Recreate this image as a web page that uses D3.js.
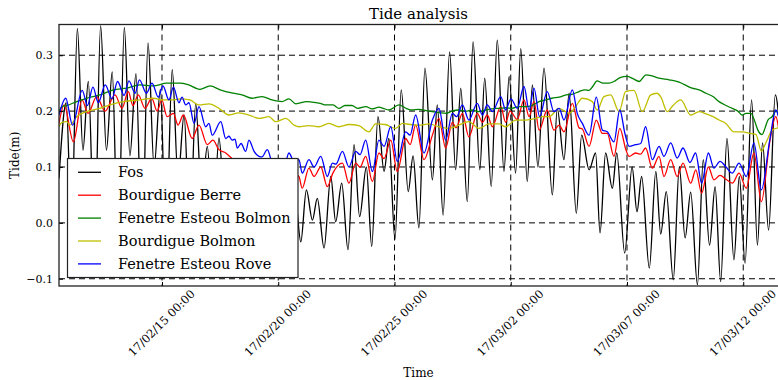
<!DOCTYPE html>
<html>
<head>
<meta charset="utf-8">
<script src="https://cdn.jsdelivr.net/npm/d3@7"></script>
<style>
  body { margin: 0; background: #fff; }
  svg { display: block; font-family: "DejaVu Serif", serif; }
</style>
</head>
<body>
<svg id="chart" width="778" height="380"></svg>
<script>
// time is stored as days since 2017-02-10 00:00 (UTC)
const baseDate = Date.UTC(2017, 1, 10);
const xLimits = [0.57, 31.495];
const yLimits = [-0.113, 0.355];
const xTickDates = ['2017-02-15', '2017-02-20', '2017-02-25', '2017-03-02', '2017-03-07', '2017-03-12'];
const yTicks = [-0.1, 0.0, 0.1, 0.2, 0.3];
const seriesNames = ['Fos', 'Bourdigue Berre', 'Fenetre Esteou Bolmon', 'Bourdigue Bolmon', 'Fenetre Esteou Rove'];

const fos = [
  [0.57,0.08],[0.88,0.215],[1.11,0.0],[1.36,0.348],[1.60,0.13],[1.83,0.253],[2.10,-0.04],[2.36,0.353],
  [2.61,0.13],[2.86,0.27],[3.11,-0.05],[3.38,0.35],[3.62,0.12],[3.88,0.267],[4.14,-0.05],[4.40,0.322],
  [4.66,0.10],[4.93,0.239],[5.17,-0.03],[5.44,0.274],[5.69,0.08],[5.95,0.193],[6.20,-0.02],[6.45,0.214],
  [6.70,0.05],[6.95,0.137],[7.19,-0.01],[7.45,0.152],[7.71,0.03],[7.95,0.09],[8.18,0.0],[8.44,0.11],
  [8.68,0.02],[8.91,0.07],[9.15,-0.01],[9.39,0.09],[9.62,0.0],[9.86,0.05],[10.08,-0.02],[10.31,0.08],
  [10.53,-0.02],[10.74,0.04],[10.97,-0.034],[11.21,0.059],[11.47,0.005],[11.68,0.044],[11.97,-0.045],
  [12.26,0.083],[12.47,0.002],[12.73,0.071],[13.00,-0.048],[13.26,0.14],[13.50,0.011],[13.79,0.10],
  [14.02,-0.042],[14.29,0.19],[14.55,0.092],[14.76,0.151],[15.02,-0.03],[15.29,0.238],[15.59,0.056],
  [15.80,0.12],[16.05,-0.009],[16.31,0.277],[16.63,0.077],[16.84,0.211],[17.09,0.014],[17.37,0.306],
  [17.63,0.095],[17.85,0.241],[18.13,0.038],[18.38,0.324],[18.67,0.095],[18.88,0.259],[19.16,0.065],
  [19.42,0.327],[19.71,0.092],[19.93,0.262],[20.21,0.089],[20.43,0.312],[20.71,0.074],[20.93,0.247],
  [21.17,0.10],[21.43,0.277],[21.79,0.05],[22.00,0.205],[22.29,0.113],[22.51,0.232],[22.82,0.017],
  [23.05,0.157],[23.37,0.095],[23.65,0.125],[23.84,-0.018],[24.08,0.125],[24.37,0.062],[24.56,0.125],
  [24.90,-0.054],[25.22,0.10],[25.43,0.02],[25.63,0.083],[25.96,-0.081],[26.24,0.092],[26.45,-0.02],
  [26.69,0.056],[26.99,-0.102],[27.25,0.10],[27.50,-0.027],[27.74,0.055],[28.03,-0.111],[28.28,0.113],
  [28.55,-0.04],[28.79,0.065],[29.03,-0.105],[29.30,0.151],[29.60,-0.066],[29.83,0.083],[30.08,-0.072],
  [30.36,0.22],[30.61,-0.04],[30.83,0.143],[31.09,-0.013],[31.38,0.229],[31.60,0.15]
];

const bourdigueBerre = [
  [0.57,0.178],[0.79,0.211],[1.19,0.145],[1.56,0.22],[1.82,0.196],[2.19,0.226],[2.55,0.20],[2.98,0.229],
  [3.28,0.205],[3.55,0.235],[3.75,0.21],[3.98,0.229],[4.27,0.205],[4.56,0.223],[4.79,0.20],[4.99,0.22],
  [5.22,0.19],[5.49,0.196],[5.69,0.175],[5.92,0.193],[6.30,0.151],[6.59,0.175],[6.95,0.14],[7.19,0.148],
  [7.45,0.131],[7.74,0.125],[8.01,0.115],[8.36,0.10],[8.79,0.105],[9.13,0.09],[9.56,0.10],[9.99,0.085],
  [10.42,0.095],[10.59,0.09],[10.89,0.083],[11.03,0.062],[11.32,0.098],[11.54,0.083],[11.83,0.10],
  [12.11,0.065],[12.36,0.09],[12.76,0.107],[13.04,0.071],[13.33,0.107],[13.52,0.10],[13.76,0.119],
  [14.05,0.074],[14.33,0.125],[14.55,0.115],[14.84,0.148],[15.12,0.092],[15.48,0.151],[15.67,0.14],
  [15.91,0.175],[16.27,0.113],[16.63,0.157],[16.91,0.187],[17.20,0.134],[17.49,0.18],[17.65,0.17],
  [17.92,0.196],[18.20,0.154],[18.56,0.196],[18.78,0.18],[18.99,0.193],[19.21,0.172],[19.57,0.208],
  [19.78,0.18],[19.97,0.20],[20.28,0.185],[20.57,0.22],[20.79,0.19],[21.00,0.217],[21.22,0.166],
  [21.57,0.202],[21.86,0.166],[22.08,0.175],[22.29,0.163],[22.65,0.214],[22.94,0.17],[23.08,0.168],
  [23.37,0.137],[23.68,0.184],[23.94,0.16],[24.15,0.16],[24.44,0.119],[24.69,0.169],[24.96,0.13],
  [25.09,0.119],[25.37,0.125],[25.59,0.123],[25.80,0.134],[26.09,0.098],[26.38,0.119],[26.59,0.083],
  [26.88,0.113],[27.16,0.083],[27.41,0.107],[27.74,0.071],[27.96,0.095],[28.21,0.053],[28.50,0.10],
  [28.74,0.077],[29.00,0.085],[29.26,0.078],[29.53,0.071],[29.82,0.089],[30.13,0.062],[30.46,0.125],
  [30.78,0.038],[31.14,0.145],[31.40,0.19],[31.52,0.17]
];

const esteouBolmon = [
  [0.57,0.20],[0.70,0.208],[0.90,0.21],[1.33,0.217],[1.76,0.223],[2.33,0.229],[2.91,0.238],[3.48,0.241],
  [4.05,0.247],[4.63,0.245],[5.20,0.25],[5.77,0.25],[6.08,0.248],[6.63,0.239],[7.07,0.245],[7.50,0.238],
  [8.05,0.232],[8.44,0.229],[8.87,0.223],[9.30,0.226],[9.73,0.22],[10.16,0.217],[10.46,0.222],
  [10.76,0.213],[11.22,0.217],[11.45,0.216],[11.80,0.214],[12.05,0.211],[12.36,0.211],[12.61,0.205],
  [12.87,0.21],[13.17,0.21],[13.43,0.205],[13.77,0.208],[14.03,0.204],[14.33,0.207],[14.51,0.205],
  [14.76,0.202],[15.19,0.211],[15.50,0.205],[15.75,0.202],[16.05,0.203],[16.36,0.201],[16.61,0.199],
  [16.96,0.197],[17.22,0.196],[17.47,0.20],[17.77,0.202],[18.08,0.20],[18.33,0.202],[18.63,0.199],
  [18.94,0.202],[19.19,0.204],[19.50,0.205],[19.80,0.206],[20.05,0.205],[20.36,0.208],[20.66,0.208],
  [20.91,0.21],[21.22,0.217],[21.52,0.22],[21.77,0.223],[22.08,0.225],[22.38,0.229],[22.63,0.23],
  [22.94,0.235],[23.19,0.238],[23.37,0.237],[23.54,0.245],[23.71,0.254],[23.97,0.25],[24.23,0.25],
  [24.44,0.253],[24.70,0.26],[25.00,0.262],[25.26,0.258],[25.52,0.253],[25.82,0.265],[26.08,0.263],
  [26.38,0.259],[26.81,0.256],[27.24,0.252],[27.80,0.241],[28.10,0.238],[28.40,0.232],[28.70,0.226],
  [28.96,0.217],[29.26,0.21],[29.52,0.205],[29.77,0.20],[29.95,0.193],[30.12,0.196],[30.33,0.196],
  [30.51,0.18],[30.63,0.166],[30.81,0.158],[30.94,0.17],[31.06,0.184],[31.24,0.19],[31.41,0.20],
  [31.52,0.195]
];

const bourdigueBolmon = [
  [0.57,0.172],[0.70,0.18],[0.90,0.181],[1.04,0.175],[1.33,0.19],[1.76,0.199],[2.33,0.205],[2.76,0.211],
  [3.34,0.217],[4.05,0.22],[4.63,0.223],[5.04,0.22],[5.49,0.22],[5.77,0.222],[6.20,0.22],[6.59,0.211],
  [7.02,0.213],[7.45,0.205],[7.88,0.193],[8.31,0.197],[8.74,0.193],[9.17,0.187],[9.60,0.19],[9.89,0.181],
  [10.32,0.187],[10.68,0.175],[10.89,0.172],[11.32,0.174],[11.75,0.172],[12.18,0.178],[12.61,0.172],
  [13.04,0.176],[13.47,0.174],[13.90,0.163],[14.19,0.177],[14.59,0.176],[15.05,0.169],[15.34,0.178],
  [15.67,0.176],[16.05,0.175],[16.48,0.177],[16.91,0.172],[17.34,0.169],[17.77,0.175],[18.20,0.181],
  [18.63,0.169],[19.07,0.177],[19.50,0.177],[19.78,0.172],[20.21,0.184],[20.64,0.184],[21.07,0.187],
  [21.30,0.19],[21.65,0.19],[22.08,0.205],[22.51,0.196],[22.79,0.208],[23.08,0.223],[23.51,0.217],
  [23.72,0.202],[24.01,0.226],[24.30,0.229],[24.66,0.199],[24.94,0.235],[25.30,0.237],[25.66,0.199],
  [26.02,0.229],[26.29,0.232],[26.46,0.225],[26.73,0.199],[26.98,0.21],[27.31,0.22],[27.74,0.193],
  [28.10,0.199],[28.40,0.195],[28.70,0.19],[28.96,0.184],[29.25,0.178],[29.60,0.163],[29.96,0.163],
  [30.32,0.16],[30.55,0.158],[30.78,0.128],[30.97,0.143],[31.25,0.166],[31.50,0.17]
];

const esteouRove = [
  [0.57,0.193],[0.86,0.223],[1.15,0.175],[1.57,0.237],[1.79,0.21],[2.03,0.243],[2.26,0.215],[2.56,0.247],
  [2.85,0.222],[3.09,0.253],[3.37,0.228],[3.58,0.254],[3.84,0.232],[4.03,0.256],[4.33,0.232],[4.57,0.25],
  [4.84,0.225],[5.04,0.245],[5.30,0.22],[5.49,0.243],[5.73,0.215],[5.86,0.225],[6.02,0.211],[6.16,0.215],
  [6.38,0.178],[6.59,0.208],[6.88,0.172],[7.02,0.178],[7.16,0.157],[7.53,0.181],[7.74,0.151],[7.88,0.155],
  [8.02,0.148],[8.14,0.15],[8.24,0.134],[8.40,0.142],[8.60,0.128],[8.74,0.148],[8.96,0.128],[9.17,0.119],
  [9.30,0.118],[9.53,0.131],[9.73,0.11],[9.99,0.105],[10.25,0.10],[10.46,0.125],[10.68,0.11],[10.89,0.113],
  [11.03,0.089],[11.32,0.113],[11.54,0.10],[11.83,0.119],[12.11,0.083],[12.33,0.107],[12.48,0.105],
  [12.76,0.128],[13.04,0.10],[13.33,0.128],[13.52,0.122],[13.76,0.148],[14.05,0.092],[14.33,0.148],
  [14.55,0.137],[14.84,0.172],[15.12,0.11],[15.48,0.163],[15.67,0.157],[15.91,0.193],[16.27,0.125],
  [16.63,0.184],[16.91,0.205],[17.20,0.148],[17.49,0.196],[17.67,0.19],[17.92,0.211],[18.20,0.184],
  [18.56,0.214],[18.78,0.193],[18.99,0.211],[19.21,0.199],[19.57,0.226],[19.78,0.202],[20.01,0.222],
  [20.28,0.205],[20.57,0.244],[20.79,0.202],[21.00,0.241],[21.24,0.19],[21.57,0.235],[21.86,0.199],
  [22.08,0.205],[22.29,0.184],[22.65,0.238],[22.86,0.196],[23.08,0.178],[23.37,0.157],[23.68,0.225],
  [23.94,0.166],[24.15,0.163],[24.44,0.145],[24.69,0.202],[24.91,0.16],[25.09,0.137],[25.37,0.14],
  [25.59,0.142],[25.80,0.172],[26.09,0.113],[26.38,0.137],[26.59,0.119],[26.88,0.143],[27.16,0.116],
  [27.41,0.134],[27.71,0.108],[27.95,0.125],[28.21,0.071],[28.50,0.125],[28.74,0.098],[29.00,0.11],
  [29.26,0.10],[29.53,0.089],[29.82,0.107],[30.13,0.083],[30.46,0.143],[30.78,0.059],[31.14,0.148],
  [31.40,0.202],[31.52,0.19]
];

const seriesData = [fos, bourdigueBerre, esteouBolmon, bourdigueBolmon, esteouRove];
const seriesColors = ['#000000', '#ff0000', '#008000', '#bfbf00', '#0000ff'];

const dayToDate = d => new Date(baseDate + d * 86400000);

const svg = d3.select('#chart');
const plotLeft = 59, plotRight = 778, plotTop = 24.5, plotBottom = 286;

const x = d3.scaleUtc()
  .domain(xLimits.map(dayToDate))
  .range([plotLeft, plotRight]);

const y = d3.scaleLinear()
  .domain(yLimits)
  .range([plotBottom, plotTop]);

const xTicks = xTickDates.map(s => new Date(s + 'T00:00:00Z'));

svg.append('defs').append('clipPath').attr('id', 'plot-clip')
  .append('rect')
  .attr('x', plotLeft).attr('y', plotTop)
  .attr('width', plotRight - plotLeft).attr('height', plotBottom - plotTop);

// Grid
const grid = svg.append('g')
  .attr('stroke', '#000')
  .attr('stroke-width', 1)
  .attr('stroke-dasharray', '6,4');

grid.selectAll('.hgrid')
  .data(yTicks)
  .join('line')
  .attr('x1', plotLeft).attr('x2', plotRight)
  .attr('y1', d => y(d)).attr('y2', d => y(d));

grid.selectAll('.vgrid')
  .data(xTicks)
  .join('line')
  .attr('x1', d => x(d)).attr('x2', d => x(d))
  .attr('y1', plotTop).attr('y2', plotBottom);

// Series
const line = d3.line()
  .x(d => x(dayToDate(d[0])))
  .y(d => y(d[1]))
  .curve(d3.curveMonotoneX);

svg.append('g')
  .attr('clip-path', 'url(#plot-clip)')
  .selectAll('path')
  .data(seriesData)
  .join('path')
  .attr('d', d => line(d))
  .attr('fill', 'none')
  .attr('stroke', (d, i) => seriesColors[i])
  .attr('stroke-width', 1.3)
  .attr('stroke-linejoin', 'round');

// Axes (inward ticks, matplotlib classic look)
const fmtY = d3.format('.1f');
const fmtX = d3.utcFormat('%y/%m/%d %H:%M');

const yAxis = svg.append('g')
  .attr('transform', `translate(${plotLeft},0)`)
  .call(d3.axisLeft(y).tickValues(yTicks).tickFormat(fmtY).tickSize(-4).tickPadding(6));

const xAxis = svg.append('g')
  .attr('transform', `translate(0,${plotBottom})`)
  .call(d3.axisBottom(x).tickValues(xTicks).tickFormat(fmtX).tickSize(-4));

svg.append('g')
  .attr('transform', `translate(0,${plotTop})`)
  .call(d3.axisTop(x).tickValues(xTicks).tickFormat('').tickSize(-4));

svg.selectAll('.domain').remove();
svg.selectAll('.tick line').attr('stroke', '#000');

yAxis.selectAll('text')
  .attr('font-size', 11)
  .attr('font-family', '"DejaVu Serif", serif')
  .attr('fill', '#000');

xAxis.selectAll('text')
  .attr('font-size', 11.5)
  .attr('font-family', '"DejaVu Serif", serif')
  .attr('fill', '#000')
  .attr('y', 0)
  .attr('dy', '0.35em')
  .attr('text-anchor', 'middle')
  .attr('transform', 'translate(-1,37) rotate(-45)');

// Frame
svg.append('rect')
  .attr('x', plotLeft).attr('y', plotTop)
  .attr('width', plotRight - plotLeft + 1).attr('height', plotBottom - plotTop)
  .attr('fill', 'none')
  .attr('stroke', '#222')
  .attr('stroke-width', 1.3);

// Titles
svg.append('text')
  .attr('x', (plotLeft + plotRight) / 2)
  .attr('y', 19)
  .attr('text-anchor', 'middle')
  .attr('font-size', 15)
  .text('Tide analysis');

svg.append('text')
  .attr('x', (plotLeft + plotRight) / 2)
  .attr('y', 377)
  .attr('text-anchor', 'middle')
  .attr('font-size', 12)
  .text('Time');

svg.append('text')
  .attr('transform', `translate(19,${(plotTop + plotBottom) / 2}) rotate(-90)`)
  .attr('text-anchor', 'middle')
  .attr('font-size', 12)
  .text('Tide(m)');

// Legend
const legend = svg.append('g');
legend.append('rect')
  .attr('x', 67.5).attr('y', 158.5)
  .attr('width', 230.5).attr('height', 119)
  .attr('fill', '#fff')
  .attr('stroke', '#222')
  .attr('stroke-width', 1.2);

const items = legend.selectAll('.item')
  .data(seriesNames)
  .join('g')
  .attr('transform', (d, i) => `translate(0,${172.3 + i * 22.9})`);

items.append('line')
  .attr('x1', 78).attr('x2', 101)
  .attr('stroke', (d, i) => seriesColors[i])
  .attr('stroke-width', 1.3);

items.append('text')
  .attr('x', 118)
  .attr('dy', '0.35em')
  .attr('font-size', 14.5)
  .text(d => d);
</script>
</body>
</html>
